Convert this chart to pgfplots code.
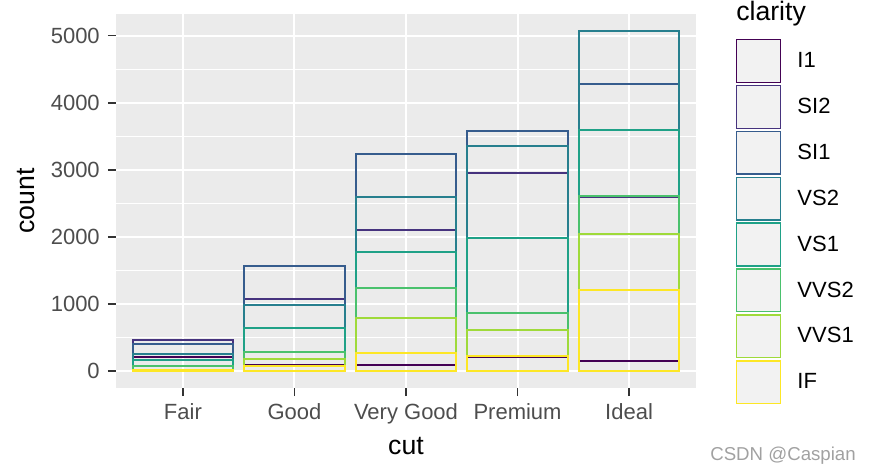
\documentclass[border=0pt]{standalone}
\usepackage{fontspec}
\setmainfont{Liberation Sans}
\usepackage{pgfplots}
\pgfplotsset{compat=1.18}
\definecolor{cI1}{HTML}{440154}
\definecolor{cSI2}{HTML}{46337E}
\definecolor{cSI1}{HTML}{365C8D}
\definecolor{cVS2}{HTML}{277F8E}
\definecolor{cVS1}{HTML}{1FA187}
\definecolor{cVVS2}{HTML}{4AC16D}
\definecolor{cVVS1}{HTML}{9FDA3A}
\definecolor{cIF}{HTML}{FDE725}
\definecolor{panel}{HTML}{EBEBEB}
\definecolor{keyg}{HTML}{F2F2F2}
\definecolor{tlab}{HTML}{4D4D4D}
\definecolor{tickc}{HTML}{333333}
\newcommand{\keyimg}[1]{\addlegendimage{legend image code/.code={\draw[draw=#1,line width=1.1pt,fill=keyg] (0pt,-16pt) rectangle (33pt,16pt);}}}
\begin{document}
\begin{tikzpicture}
\begin{axis}[
  scale only axis, width=435pt, height=280.5pt,
  xmin=0.4, xmax=5.6, ymin=-253.55, ymax=5324.55,
  axis background/.style={fill=panel},
  axis line style={draw=none},
  xtick={1,2,3,4,5}, xticklabels={Fair,Good,Very Good,Premium,Ideal},
  ytick={0,1000,2000,3000,4000,5000},
  minor ytick={500,1500,2500,3500,4500},
  /pgf/number format/.cd, 1000 sep={}, assume math mode=true, /pgfplots/.cd,
  grid=both,
  major grid style={white, line width=1.5pt},
  minor grid style={white, line width=0.75pt},
  tick align=outside, major tick length=6pt, minor tick length=0pt,
  xtick pos=bottom, ytick pos=left,
  major tick style={tickc, line width=1.1pt},
  ticklabel style={font=\fontsize{16.5}{18}\selectfont, text=tlab},
  xticklabel style={anchor=base, inner sep=0pt, yshift=-17.25pt},
  yticklabel style={anchor=east, inner sep=0pt, xshift=-6pt},
  xlabel={cut}, ylabel={count},
  every axis x label/.style={at={(axis description cs:0.5,-0.1765)}, anchor=base, font=\fontsize{20}{22}\selectfont},
  every axis y label/.style={at={(axis description cs:-0.1397,0.5)}, rotate=90, anchor=base, font=\fontsize{20}{22}\selectfont},
  legend style={at={(axis description cs:1.0690,0.9332)}, anchor=north west, draw=none, fill=none,
    inner sep=0pt, outer sep=0pt, row sep=1.3pt, column sep=12pt,
    font=\fontsize{16.5}{18}\selectfont, nodes={inner sep=0pt}},
  legend cell align=left,
]
\addplot[ybar, bar width=0.9, bar shift=0pt, draw=cI1, fill=none, line width=1.5pt, forget plot]
  coordinates {(1,210) (2,96) (3,84) (4,205) (5,146)};
\addplot[ybar, bar width=0.9, bar shift=0pt, draw=cSI2, fill=none, line width=1.5pt, forget plot]
  coordinates {(1,466) (2,1081) (3,2100) (4,2949) (5,2598)};
\addplot[ybar, bar width=0.9, bar shift=0pt, draw=cSI1, fill=none, line width=1.5pt, forget plot]
  coordinates {(1,408) (2,1560) (3,3240) (4,3575) (5,4282)};
\addplot[ybar, bar width=0.9, bar shift=0pt, draw=cVS2, fill=none, line width=1.5pt, forget plot]
  coordinates {(1,261) (2,978) (3,2591) (4,3357) (5,5071)};
\addplot[ybar, bar width=0.9, bar shift=0pt, draw=cVS1, fill=none, line width=1.5pt, forget plot]
  coordinates {(1,170) (2,648) (3,1775) (4,1989) (5,3589)};
\addplot[ybar, bar width=0.9, bar shift=0pt, draw=cVVS2, fill=none, line width=1.5pt, forget plot]
  coordinates {(1,69) (2,286) (3,1235) (4,870) (5,2606)};
\addplot[ybar, bar width=0.9, bar shift=0pt, draw=cVVS1, fill=none, line width=1.5pt, forget plot]
  coordinates {(1,17) (2,186) (3,789) (4,616) (5,2047)};
\addplot[ybar, bar width=0.9, bar shift=0pt, draw=cIF, fill=none, line width=1.5pt, forget plot]
  coordinates {(1,9) (2,71) (3,268) (4,230) (5,1212)};
\keyimg{cI1}\addlegendentry{I1}
\keyimg{cSI2}\addlegendentry{SI2}
\keyimg{cSI1}\addlegendentry{SI1}
\keyimg{cVS2}\addlegendentry{VS2}
\keyimg{cVS1}\addlegendentry{VS1}
\keyimg{cVVS2}\addlegendentry{VVS2}
\keyimg{cVVS1}\addlegendentry{VVS1}
\keyimg{cIF}\addlegendentry{IF}
\end{axis}
\node[anchor=base west, font=\fontsize{20}{22}\selectfont, inner sep=0pt] at (465pt,275.5pt) {clarity};
\node[anchor=base west, font=\fontsize{14}{16}\selectfont, text=black!37, inner sep=0pt] at (445.5pt,-54pt) {CSDN @Caspian};
\pgfresetboundingbox
\path[use as bounding box] (-87pt,-64.5pt) rectangle (576pt,291pt);
\end{tikzpicture}
\end{document}
